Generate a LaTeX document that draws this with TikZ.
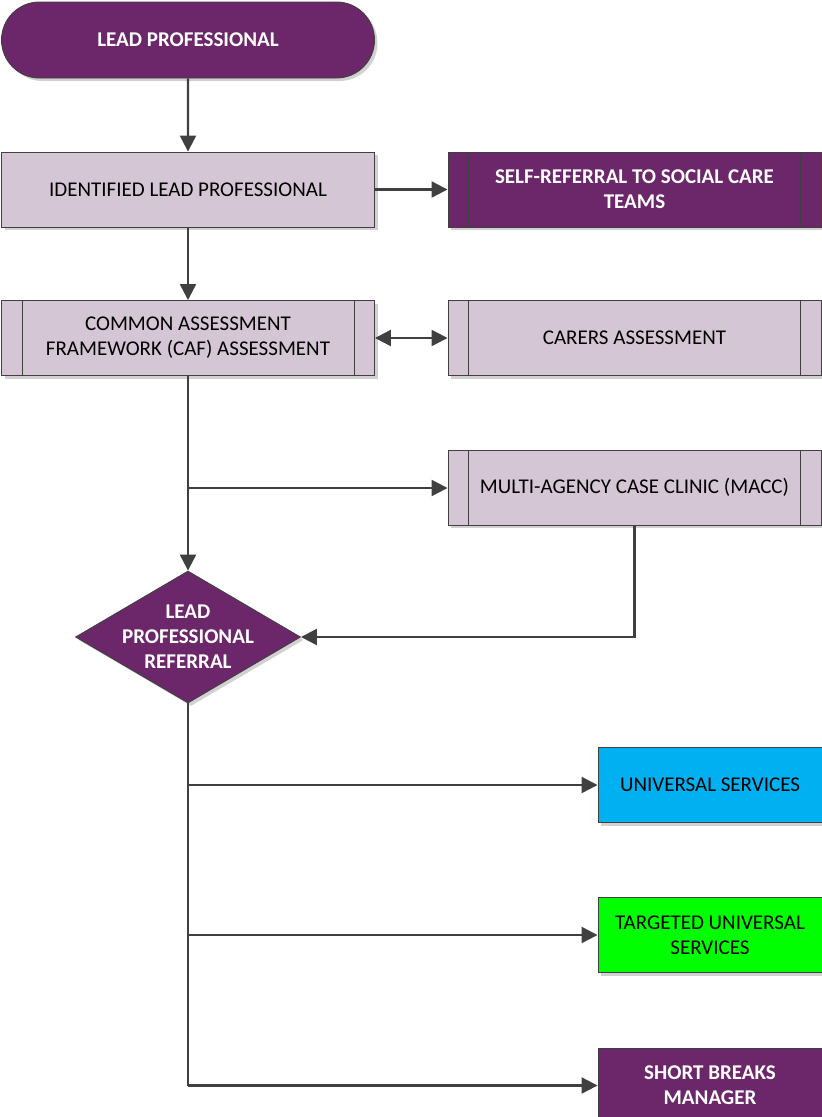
\documentclass[tikz,border=0pt]{standalone}
\usepackage{fontspec}
\setmainfont{Carlito}
\usetikzlibrary{shapes.geometric,shapes.misc,shadows,arrows.meta}
\definecolor{plum}{HTML}{6B2769}
\definecolor{lilac}{HTML}{D5C6D6}
\definecolor{edgegray}{HTML}{404040}
\definecolor{skyblue}{HTML}{00B0F0}
\definecolor{limegreen}{HTML}{00FF00}
\tikzset{
  shade/.style={drop shadow={shadow xshift=3pt,shadow yshift=-3pt,fill=black!18,opacity=1}},
  bodyfont/.style={font=\fontsize{21}{25}\selectfont},
  boldfont/.style={font=\fontsize{21}{25}\selectfont\bfseries},
  lbox/.style={rectangle,draw=edgegray,line width=0.9pt,fill=lilac,shade,
    minimum width=373pt,minimum height=75pt,inner sep=0pt,align=center,
    bodyfont,text=black},
  pbox/.style={lbox,fill=plum,text=white,boldfont},
  sbox/.style={lbox,minimum width=224pt,minimum height=75pt},
  term/.style={rounded rectangle,draw=edgegray,line width=0.9pt,fill=plum,shade,
    minimum width=373pt,minimum height=76pt,inner sep=0pt,text=white,boldfont},
  decision/.style={diamond,draw=edgegray,line width=0.9pt,fill=plum,shade,
    minimum width=225pt,minimum height=132pt,inner sep=0pt},
  conn/.style={draw=edgegray,line width=2.3pt},
  tip/.tip={Triangle[length=16pt,width=16pt]},
  arr/.style={conn,-tip},
  arrboth/.style={conn,tip-tip},
}
\begin{document}
\begin{tikzpicture}[x=1pt,y=-1pt]
\useasboundingbox (0,0) rectangle (822,1117);

% boxes
\node[term] (lp) at (188,40) {LEAD PROFESSIONAL};
\node[lbox] (ilp) at (188,189.5) {IDENTIFIED LEAD PROFESSIONAL};
\node[pbox] (sr) at (634.5,189.5) {SELF-REFERRAL TO SOCIAL CARE\\TEAMS};
\node[lbox] (caf) at (188,338) {COMMON ASSESSMENT\\FRAMEWORK (CAF) ASSESSMENT};
\node[lbox] (car) at (634.5,338) {CARERS ASSESSMENT};
\node[lbox] (macc) at (634.5,487.5) {MULTI-AGENCY CASE CLINIC (MACC)};
\node[decision] (dia) at (188,637) {};
\node[align=center,text=white,boldfont] (dialabel) at (dia) {LEAD\\PROFESSIONAL\\REFERRAL};
\node[sbox,fill=skyblue] (us) at (710,785) {UNIVERSAL SERVICES};
\node[sbox,fill=limegreen] (tus) at (710,935) {TARGETED UNIVERSAL\\SERVICES};
\node[sbox,fill=plum,text=white,boldfont] (sb) at (710,1085.5) {SHORT BREAKS\\MANAGER};

% predefined-process side bars
\foreach \n in {sr,caf,car,macc}{
  \draw[edgegray,line width=0.9pt] ([xshift=21pt]\n.north west) -- ([xshift=21pt]\n.south west);
  \draw[edgegray,line width=0.9pt] ([xshift=-21pt]\n.north east) -- ([xshift=-21pt]\n.south east);
}

% connectors
\draw[arr] (lp) -- (ilp);
\draw[arr] (ilp) -- (sr);
\draw[arr] (ilp) -- (caf);
\draw[arrboth] (caf) -- (car);
\draw[arr] (caf) -- (dia);
\coordinate (j1) at (188,488);
\draw[arr] (j1) -- (macc.west |- j1);
\draw[arr] (macc.south) -- (macc.south |- dia.east) -- (dia.east);
\draw[conn] (dia.south) -- (dia.south |- sb.west);
\draw[arr] (dia.south |- us.west) -- (us.west);
\draw[arr] (dia.south |- tus.west) -- (tus.west);
\draw[arr] (dia.south |- sb.west) -- (sb.west);
\end{tikzpicture}
\end{document}
